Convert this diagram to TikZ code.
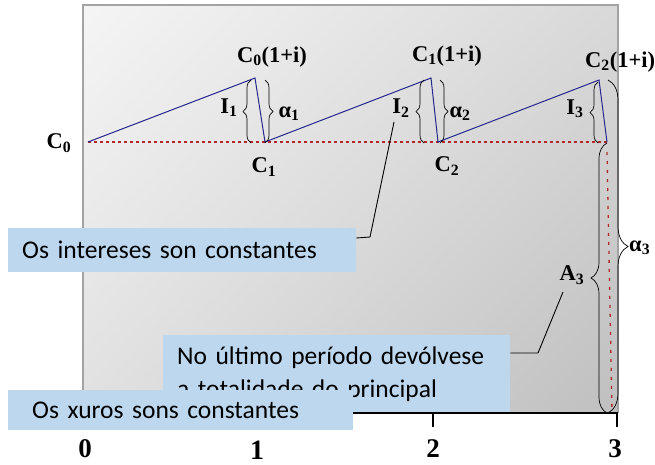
\documentclass[tikz,border=0pt]{standalone}
\usepackage{fontspec}
\setmainfont{Liberation Serif}
\newfontfamily\boxfont{Carlito}
\usetikzlibrary{decorations.pathreplacing,shadings}
\definecolor{boxblue}{HTML}{BDD7EE}
\definecolor{lineblue}{HTML}{26268C}
\definecolor{dotred}{HTML}{B0282A}
\definecolor{rimgray}{HTML}{A3A3A3}
\tikzset{
  lbl/.style={font=\fontsize{22.5}{24}\selectfont\bfseries, inner sep=0pt},
  axlbl/.style={font=\fontsize{27}{29}\selectfont\bfseries, inner sep=0pt, anchor=base},
  callout/.style={fill=boxblue, font=\boxfont\fontsize{25.5}{33}\selectfont,
    align=left, inner ysep=0pt, anchor=north west},
  brc/.style={decorate, decoration={brace, amplitude=#1}, line width=0.7pt},
  mbrc/.style={decorate, decoration={brace, mirror, amplitude=#1}, line width=0.7pt},
  zig/.style={lineblue, line width=1pt},
  baseln/.style={dotred, line width=1.2pt, dash pattern=on 3pt off 3pt},
  leader/.style={black, line width=0.9pt}
}
\begin{document}
\begin{tikzpicture}[x=1pt, y=-1pt]
    \useasboundingbox (0,0) rectangle (655,464);
    % panel
    \shade[upper left=white!96!black, upper right=white!85!black,
           lower left=white!88!black, lower right=white!75!black] (83,5) rectangle (618,413);
    \draw[rimgray, line width=1.2pt] (83,413) -- (83,5) -- (618,5) -- (618,413);
    % axis
    \coordinate (ax0) at (83,413);
    \coordinate (ax3) at (618,413);
    \draw[line width=1.3pt] (ax0) -- (ax3);
    \foreach \tx in {257,433,617} \draw[line width=1.3pt] (\tx,413) -- (\tx,427);
    % points
    \coordinate (c0) at (88,142);
    \coordinate (p1) at (255,78);
    \coordinate (c1) at (265,142);
    \coordinate (p2) at (431,78);
    \coordinate (c2) at (438,142);
    \coordinate (p3) at (599,80);
    \coordinate (c3) at (607,142);
    \coordinate (rtop) at (607,152);
    \coordinate (rbot) at (612,412);
    \draw[baseln] (c0) -- (c3);
    \draw[dotred, line width=1.3pt, dash pattern=on 3pt off 6pt] (rtop) -- (rbot);
    \draw[zig] (c0) -- (p1) -- (c1) -- (p2) -- (c2) -- (p3) -- (c3);
    % braces
    \draw[mbrc=8] (251,80) -- (251,143);
    \draw[brc=8] (265,80) -- (265,143);
    \draw[mbrc=8] (424,80) -- (424,143);
    \draw[brc=8] (440,80) -- (440,143);
    \draw[mbrc=8] (598,82) -- (598,143);
    \draw[brc=20] (608,80) -- (608,413);
    \draw[mbrc=16] (607,143) -- (607,413);
    % labels
    \node[lbl] (lC0) at (59,143) {C\textsubscript{0}};
    \node[lbl] (lP1) at (272,57) {C\textsubscript{0}(1+i)};
    \node[lbl] (lP2) at (447,56) {C\textsubscript{1}(1+i)};
    \node[lbl, anchor=west] (lP3) at (585,62) {C\textsubscript{2}(1+i)};
    \node[lbl] (lC1) at (264,167) {C\textsubscript{1}};
    \node[lbl] (lC2) at (447,166) {C\textsubscript{2}};
    \node[lbl] (lI1) at (229,108) {I\textsubscript{1}};
    \node[lbl] (lI2) at (401,108) {I\textsubscript{2}};
    \node[lbl] (lI3) at (575,109) {I\textsubscript{3}};
    \node[lbl] (la1) at (289,114) {α\textsubscript{1}};
    \node[lbl] (la2) at (460,114) {α\textsubscript{2}};
    \node[lbl, anchor=west] (la3) at (629,248) {α\textsubscript{3}};
    \node[lbl] (lA3) at (572,275) {A\textsubscript{3}};
    % callouts
    \node[callout, inner xsep=14pt, text width=319pt, minimum height=77pt] (lastbox) at (163,335)
      {No último período devólvese\\a totalidade do principal};
    \coordinate (kneeA) at (538,353);
    \coordinate (tipA) at (563,292);
    \draw[leader] ([yshift=-18pt]lastbox.north east) -- (kneeA) -- (tipA);
    \node[callout, inner xsep=14pt, text width=320pt, minimum height=44pt] (intbox) at (8,228)
      {Os intereses son constantes};
    \coordinate (kneeI) at (370,237);
    \coordinate (tipI) at (394,122);
    \draw[leader] ([yshift=-10pt]intbox.north east) -- (kneeI) -- (tipI);
    \node[callout, inner xsep=24pt, text width=297pt, minimum height=40pt] (xurbox) at (8,390)
      {Os xuros sons constantes};
    % axis numbers
    \node[axlbl] (n0) at (85,457) {0};
    \node[axlbl, font=\fontsize{28}{30}\selectfont\bfseries] (n1) at (257,459) {1};
    \node[axlbl] (n2) at (433,457) {2};
    \node[axlbl] (n3) at (615,457) {3};
\end{tikzpicture}
\end{document}
